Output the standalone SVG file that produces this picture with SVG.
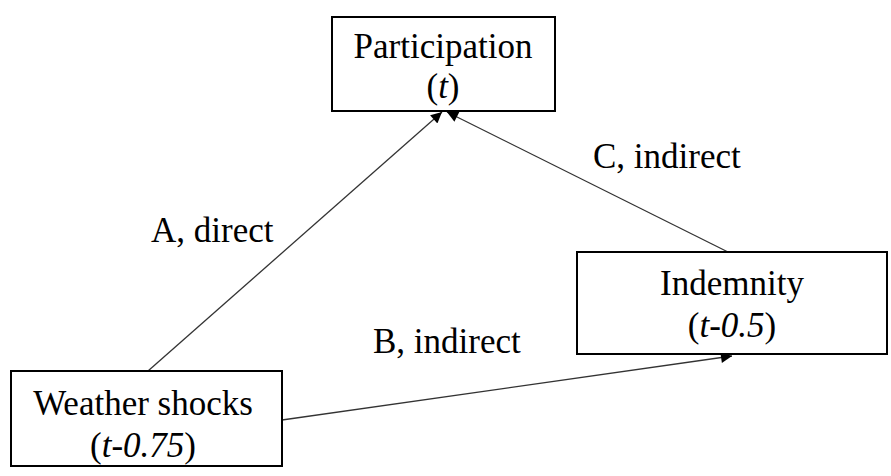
<svg xmlns="http://www.w3.org/2000/svg" width="891" height="476" viewBox="0 0 891 476">
<style>
.box{fill:#fff;stroke:#000;stroke-width:2}
.t{font-size:35px;fill:#000;text-anchor:middle}
.lbl{font-size:35px;fill:#000}
.edge{stroke:#333;stroke-width:1.3;fill:none}
</style>
<defs>
<marker id="ah" viewBox="0 0 10 10" refX="10" refY="5" markerWidth="13" markerHeight="11" markerUnits="userSpaceOnUse" orient="auto">
<path d="M0,0 L10,5 L0,10 z" fill="#000"/>
</marker>
</defs>
<rect width="891" height="476" fill="#fff"/>
<g id="connectors">
<line class="edge" x1="148" y1="371" x2="442" y2="112" marker-end="url(#ah)"/>
<line class="edge" x1="728" y1="252" x2="447" y2="112" marker-end="url(#ah)"/>
<line class="edge" x1="282" y1="420" x2="732" y2="356" marker-end="url(#ah)"/>
</g>
<g font-family="'Liberation Serif', Tinos, 'Times New Roman', serif">
<g id="participation">
<rect class="box" x="332" y="17" width="223" height="94"/>
<text class="t" x="443" y="58">Participation</text>
<text class="t" x="443" y="98">(<tspan font-style="italic">t</tspan>)</text>
</g>
<g id="indemnity">
<rect class="box" x="577" y="252" width="310" height="102"/>
<text class="t" x="732" y="295">Indemnity</text>
<text class="t" x="732" y="337">(<tspan font-style="italic">t-0.5</tspan>)</text>
</g>
<g id="weather">
<rect class="box" x="11" y="371" width="271" height="95"/>
<text class="t" x="143" y="415">Weather shocks</text>
<text class="t" x="143" y="457">(<tspan font-style="italic">t-0.75</tspan>)</text>
</g>
<g id="labels">
<text class="lbl" x="151" y="242">A, direct</text>
<text class="lbl" x="373" y="353">B, indirect</text>
<text class="lbl" x="593" y="168">C, indirect</text>
</g>
</g>
</svg>
